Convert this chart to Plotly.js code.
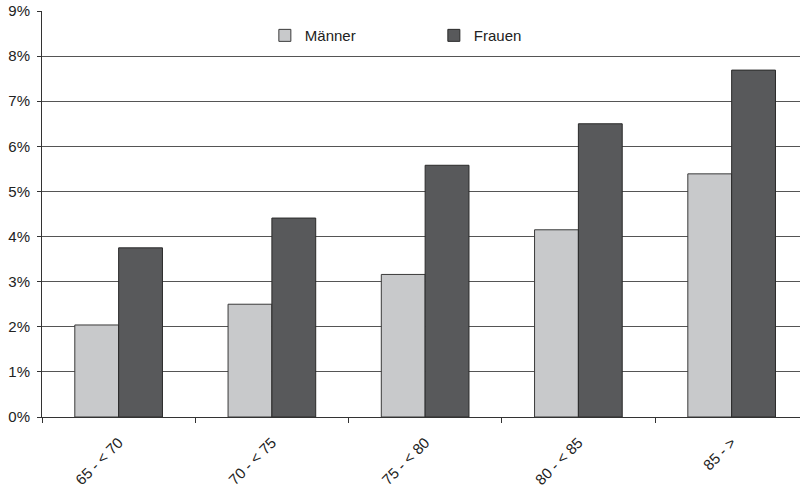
<!DOCTYPE html>
<html><head><meta charset="utf-8">
<script src="https://cdn.plot.ly/plotly-3.0.1.min.js"></script>
<style>html,body{margin:0;padding:0;background:#fff;overflow:hidden}#c{width:800px;height:489px}</style>
</head><body><div id="c"></div>
<script>
const categories = ["65 - < 70", "70 - < 75", "75 - < 80", "80 - < 85", "85 - >"];
const maenner = [2.04, 2.50, 3.16, 4.15, 5.39];
const frauen = [3.75, 4.41, 5.58, 6.50, 7.69];
const yTicks = [0,1,2,3,4,5,6,7,8,9];

const font = {family: "Liberation Sans, Arial, sans-serif", size: 15, color: "#222"};
const traces = [
  {type: "bar", name: "Männer", x: categories, y: maenner,
   marker: {color: "#c8c9cb", line: {color: "#3a3a3a", width: 1}}},
  {type: "bar", name: "Frauen", x: categories, y: frauen,
   marker: {color: "#58595b", line: {color: "#2a2a2a", width: 1}}}
];
const layout = {
  width: 800, height: 489,
  margin: {l: 42, r: 0, t: 11, b: 72},
  paper_bgcolor: "#fff", plot_bgcolor: "#fff",
  font: font,
  barmode: "group", bargap: 0.428, bargroupgap: 0,
  showlegend: true,
  legend: {orientation: "h", x: 0.294, y: 0.98, xanchor: "left", yanchor: "top",
           bgcolor: "rgba(0,0,0,0)", font: font, entrywidth: 124, entrywidthmode: "pixels",
           itemwidth: 30},
  xaxis: {type: "category", range: [-0.5, 4.446], showgrid: false,
          showline: true, linecolor: "#333", linewidth: 1,
          ticks: "outside", tickson: "boundaries", ticklen: 5, tickcolor: "#333",
          tickangle: -45, tickfont: font, ticklabelstandoff: 10},
  yaxis: {range: [0, 9], tickvals: yTicks, ticktext: yTicks.map(v => v + "%"),
          showgrid: true, gridcolor: "#555", gridwidth: 1,
          showline: true, linecolor: "#333", linewidth: 1,
          ticks: "outside", ticklen: 4, tickcolor: "#333", tickfont: font,
          ticklabelstandoff: 4, zeroline: false}
};
Plotly.newPlot("c", traces, layout, {displayModeBar: false, staticPlot: true});
</script></body></html>
